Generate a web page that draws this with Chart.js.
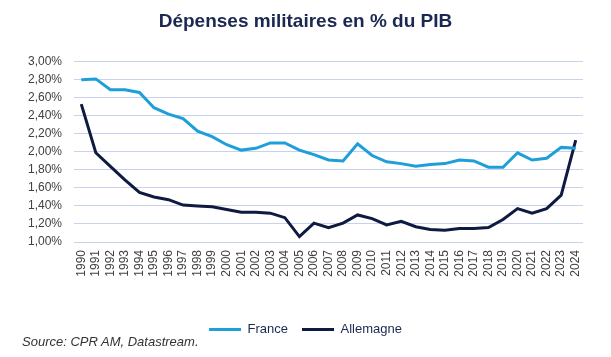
<!DOCTYPE html>
<html>
<head>
<meta charset="utf-8">
<script src="https://cdn.jsdelivr.net/npm/chart.js@4"></script>
<style>
  html, body { margin: 0; padding: 0; background: #ffffff; }
  #wrap { position: relative; width: 611px; height: 357px; }
  #source { position: absolute; left: 22px; top: 334px; font: italic 13px "Liberation Sans", Arial, sans-serif; color: #333333; white-space: nowrap; }
</style>
</head>
<body>
<div id="wrap">
  <canvas id="c" width="611" height="357"></canvas>
  <div id="source">Source: CPR AM, Datastream.</div>
</div>
<script>
const years = ["1990","1991","1992","1993","1994","1995","1996","1997","1998","1999",
               "2000","2001","2002","2003","2004","2005","2006","2007","2008","2009",
               "2010","2011","2012","2013","2014","2015","2016","2017","2018","2019",
               "2020","2021","2022","2023","2024"];
const france = [2.80, 2.81, 2.69, 2.69, 2.66, 2.49, 2.42, 2.37, 2.23, 2.17,
                2.08, 2.02, 2.04, 2.10, 2.10, 2.02, 1.97, 1.91, 1.90, 2.09,
                1.96, 1.89, 1.87, 1.84, 1.86, 1.87, 1.91, 1.90, 1.83, 1.83,
                1.99, 1.91, 1.93, 2.05, 2.04];
const allemagne = [2.53, 1.99, 1.84, 1.69, 1.55, 1.50, 1.47, 1.41, 1.40, 1.39,
                   1.36, 1.33, 1.33, 1.32, 1.27, 1.06, 1.21, 1.16, 1.21, 1.30,
                   1.26, 1.19, 1.23, 1.17, 1.14, 1.13, 1.15, 1.15, 1.16, 1.25,
                   1.37, 1.32, 1.37, 1.52, 2.13];
const seriesNames = ["France", "Allemagne"];
const titleText = "Dépenses militaires en % du PIB";
const yMin = 1.0, yMax = 3.0, yStep = 0.2;

const FONT = '"Liberation Sans", Arial, sans-serif';

new Chart(document.getElementById('c'), {
  type: 'line',
  data: {
    labels: years,
    datasets: [
      { label: seriesNames[0], data: france, borderColor: '#1f9fd9', backgroundColor: '#1f9fd9',
        borderWidth: 3, pointRadius: 0, tension: 0 },
      { label: seriesNames[1], data: allemagne, borderColor: '#0e1a40', backgroundColor: '#0e1a40',
        borderWidth: 3, pointRadius: 0, tension: 0 }
    ]
  },
  options: {
    responsive: false,
    animation: false,
    devicePixelRatio: 1,
    layout: { padding: { left: 0, right: 0, top: 0, bottom: 11 } },
    plugins: {
      title: {
        display: true, text: titleText, color: '#1b2850',
        font: { family: FONT, size: 19, weight: 'bold' },
        padding: { top: 10, bottom: 29 }
      },
      legend: {
        display: true, position: 'bottom',
        labels: {
          usePointStyle: true, pointStyle: 'line', pointStyleWidth: 32,
          color: '#1b2850', font: { family: FONT, size: 13 }, padding: 14
        }
      },
      tooltip: { enabled: false }
    },
    scales: {
      x: {
        offset: true,
        grid: { display: false, drawTicks: false },
        border: { display: false },
        ticks: { color: '#404040', font: { family: FONT, size: 12 }, minRotation: 90, maxRotation: 90, autoSkip: false, padding: 8 },
        afterFit: (s) => { s.height = 67; }
      },
      y: {
        min: yMin, max: yMax,
        grid: { color: '#c8d1f0', lineWidth: 1, drawTicks: false },
        border: { display: false },
        ticks: {
          stepSize: yStep, color: '#404040', font: { family: FONT, size: 12 }, padding: 12,
          callback: (v) => v.toFixed(2).replace('.', ',') + '%'
        },
        afterFit: (s) => { s.width = 74; }
      },
      yRight: {
        position: 'right', min: yMin, max: yMax,
        grid: { display: false, drawTicks: false },
        border: { display: false },
        ticks: { display: false },
        afterFit: (s) => { s.width = 28; }
      }
    }
  }
});
</script>
</body>
</html>
